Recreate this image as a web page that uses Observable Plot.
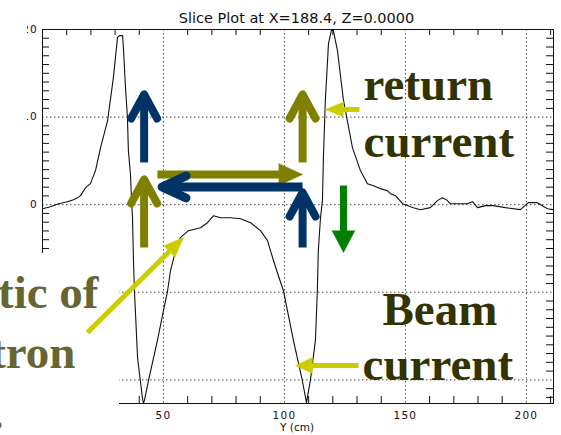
<!DOCTYPE html>
<html><head><meta charset="utf-8">
<script src="https://cdn.jsdelivr.net/npm/d3@7"></script>
<script src="https://cdn.jsdelivr.net/npm/@observablehq/plot@0.6"></script>
<style>
html,body{margin:0;padding:0;background:#fff;}
#chart svg{display:block;}
g[aria-label="x-axis tick label"] text, g[aria-label="y-axis tick label"] text, g[aria-label="axis title"] text {letter-spacing:1.2px;}
g[aria-label="title"] text{letter-spacing:0.7px;}
</style></head><body><div id="chart"></div>
<script>
// ---- data ----
const titleText = "Slice Plot at X=188.4, Z=0.0000";
const xLabel = "Y (cm)";
const xDomain = [0, 211.2];
const yDomain = [-22.7, 20];
const xMajor = [50, 100, 150, 200];
const yMajor = [-20, -10, 0, 10, 20];
const yLabelled = [0, 10, 20];
const xMinor = [10,20,30,40,60,70,80,90,110,120,130,140,160,170,180,190,210];
const yMinor = [-22,-21,-19,-18,-17,-16,-15,-14,-13,-12,-11,-9,-8,-7,-6,-5,-4,-3,-2,-1,1,2,3,4,5,6,7,8,9,11,12,13,14,15,16,17,18,19];

const yCm = [0,3.3,6.6,10.3,12.8,14.5,15.7,17.8,19.8,21.9,24.0,26.9,29.3,31.0,31.8,33.1,33.5,34.3,35.1,35.5,36.4,36.8,37.2,37.6,38.0,39.3,41.3,41.7,42.1,43.8,47.5,50.0,51.7,52.9,55.0,57.0,60.3,65.3,68.2,70.7,73.6,77.7,81.8,86.0,90.1,93.0,95.5,97.5,99.6,103.7,107.4,109.1,110.7,112.8,113.6,114.0,114.9,115.7,116.1,116.9,118.2,119.4,120.2,121.9,124.4,128.1,131.4,134.3,136.8,139.7,142.6,143.8,145.9,148.8,153.3,156.2,160.3,163.2,165.3,166.9,168.6,175.6,177.7,179.8,183.1,186.4,191.3,197.5,200.8,204.5,208.7,211.2];
const field = [-0.46,-0.23,0.11,0.34,0.57,0.8,1.03,1.94,2.4,3.89,6.51,9.6,14.5,19.1,19.3,19.3,17.6,13.4,9.94,6.17,3.31,0.46,-1.49,-6.4,-9.83,-17.5,-22.06,-22.6,-22.4,-20.1,-15.5,-12.1,-9.83,-7.54,-5.26,-3.77,-2.97,-2.63,-2.06,-1.26,-1.49,-1.49,-1.6,-2.06,-2.97,-4.11,-6.4,-8.11,-9.83,-15.5,-20.1,-22.6,-20.1,-15.5,-9.83,-5.26,-1.49,0.46,5.37,11.9,18.4,19.9,19.9,17.6,11.9,6.51,3.89,2.4,2.17,1.83,1.6,1.26,1.03,0.11,-0.34,-0.57,-0.34,0.46,0.8,0.57,0.11,0.11,0.34,-0.34,-0.11,-0.11,-0.34,-0.57,0.23,0.23,-0.46,-0.57];

// annotations (data coordinates)
const NAVY = "#003366", OLIVE = "#808000", GREEN = "#008000", YELLOW = "#cccc00";
const chevronArrows = [
  {x1:42.0, y1:4.82, x2:42.0, y2:12.58, color:NAVY},
  {x1:42.0, y1:-4.89, x2:42.0, y2:2.88, color:OLIVE},
  {x1:107.5, y1:4.82, x2:107.5, y2:12.58, color:OLIVE},
  {x1:107.5, y1:-4.89, x2:107.5, y2:1.39, color:NAVY}
];
const leftArrow = {x1:107.5, y1:2.02, x2:49.4, y2:2.02, color:NAVY};
const filledArrows = [
  {x1:47.5, y1:3.45, x2:107.5, y2:3.45, color:OLIVE, w:8, len:24, half:11},
  {x1:124.4, y1:2.19, x2:124.4, y2:-5.46, color:GREEN, w:7, len:22, half:11.5},
  {x1:131.0, y1:10.87, x2:117.0, y2:10.87, color:YELLOW, w:5, len:18, half:7.5},
  {x1:130.6, y1:-18.36, x2:104.6, y2:-18.36, color:YELLOW, w:5, len:17, half:8}
];
const diagArrow = {x1:18.6, y1:-14.59, x2:58.3, y2:-3.74, color:YELLOW, w:5, len:20, half:8};
const rightLabels = [
  {x:132.7, y:11.9, t:"return"},
  {x:132.7, y:5.39, t:"current"},
  {x:140.5, y:-13.79, t:"Beam"},
  {x:132.3, y:-20.07, t:"current"}
];
const leftLabels = [
  {x:23.15, y:-11.85, t:"tic of"},
  {x:13.64, y:-18.59, t:"tron"},
  {x:-16.1, y:-25.6, t:"."}
];

// ---- layout ----
const W = 561, H = 435, mL = 42, mR = 8, mT = 29, mB = 32;
const sx = Plot.scale({x: {domain: xDomain, range: [mL, W - mR]}});
const sy = Plot.scale({y: {domain: yDomain, range: [H - mB, mT]}});
const toD = ([px, py]) => ({x: sx.invert(px), y: sy.invert(py)});

function geom(a) {
  const x1 = sx.apply(a.x1), y1 = sy.apply(a.y1), x2 = sx.apply(a.x2), y2 = sy.apply(a.y2);
  const L = Math.hypot(x2 - x1, y2 - y1), ux = (x2 - x1) / L, uy = (y2 - y1) / L;
  return {x1, y1, x2, y2, ux, uy};
}
function chevron(a, back, side) {
  const g = geom(a);
  return [
    [g.x2 - g.ux*back - g.uy*side, g.y2 - g.uy*back + g.ux*side],
    [g.x2, g.y2],
    [g.x2 - g.ux*back + g.uy*side, g.y2 - g.uy*back - g.ux*side]
  ].map(toD);
}
function triHead(a) {
  const g = geom(a);
  const bx = g.x2 - g.ux*a.len, by = g.y2 - g.uy*a.len;
  return {
    head: [[bx - g.uy*a.half, by + g.ux*a.half], [g.x2, g.y2], [bx + g.uy*a.half, by - g.ux*a.half]].map(toD),
    base: toD([bx + g.ux*2, by + g.uy*2])
  };
}
function chevronMarks(a, w, back, side) {
  return [
    Plot.link([a], {x1:"x1", y1:"y1", x2:"x2", y2:"y2", stroke:a.color, strokeWidth:w, strokeLinecap:"butt"}),
    Plot.line(chevron(a, back, side), {x:"x", y:"y", stroke:a.color, strokeWidth:w, strokeLinecap:"round", strokeLinejoin:"round"})
  ];
}
function filledMarks(a) {
  const t = triHead(a);
  return [
    Plot.link([{x1:a.x1, y1:a.y1, x2:t.base.x, y2:t.base.y}], {x1:"x1", y1:"y1", x2:"x2", y2:"y2", stroke:a.color, strokeWidth:a.w, strokeLinecap:"butt"}),
    Plot.line(t.head, {x:"x", y:"y", fill:a.color, stroke:a.color, strokeWidth:0.5})
  ];
}

const curve = yCm.map((y, i) => ({y, v: field[i]}));
const gridStyle = {stroke:"#444", strokeOpacity:1, strokeDasharray:"1.5,2.5", strokeWidth:1};

const plot = Plot.plot({
  width: W, height: H, marginLeft: mL, marginRight: mR, marginTop: mT, marginBottom: mB,
  x: {domain: xDomain},
  y: {domain: yDomain},
  style: {fontFamily: "DejaVu Sans", fontSize: "10.5px", color: "#111", background: "white", overflow: "visible"},
  marks: [
    Plot.gridX(xMajor, gridStyle),
    Plot.gridY(yMajor, gridStyle),
    Plot.tickX(xMinor, {x: d => d, insetTop: H - mT - mB - 7, stroke:"#111"}),
    Plot.tickX(xMinor, {x: d => d, insetBottom: H - mT - mB - 6, stroke:"#111"}),
    Plot.tickY(yMinor, {y: d => d, insetRight: W - mL - mR - 7, stroke:"#111"}),
    Plot.tickY(yMinor, {y: d => d, insetLeft: W - mL - mR - 7, stroke:"#111"}),
    Plot.frame({stroke:"#111"}),
    Plot.line(curve, {x:"y", y:"v", stroke:"#111", strokeWidth:1.1, clip:true}),
    Plot.axisX({ticks: xMajor, tickSize: 0, tickPadding: 8, tickFormat: d => String(d)}),
    Plot.axisY({ticks: yLabelled, tickSize: 0, tickPadding: 4.5, tickFormat: d => String(d)}),
    Plot.text([titleText], {frameAnchor:"top", lineAnchor:"bottom", dy:-6.5, dx:-1.5, fontSize:14.5, ariaLabel:"title"}),
    Plot.text([xLabel], {frameAnchor:"bottom", lineAnchor:"bottom", dy:27.5, dx:-1, ariaLabel:"axis title"}),
    // arrows
    ...filledMarks(filledArrows[0]),
    ...chevronArrows.flatMap(a => chevronMarks(a, 8, 24, 13)),
    ...chevronMarks(leftArrow, 9, 24, 11),
    ...filledArrows.slice(1).flatMap(filledMarks),
    // overlay boxes
    Plot.frame({fill:"white", stroke:null, insetLeft:-mL, insetRight: W - mR - 26.5, insetTop:-mT, insetBottom:-mB}),
    Plot.frame({fill:"white", stroke:null, insetLeft:-mL, insetRight: W - mR - 118.5, insetTop: 252.5 - mT, insetBottom:-mB}),
    // labels
    Plot.text(leftLabels, {x:"x", y:"y", text:"t", textAnchor:"end", lineAnchor:"bottom", fontFamily:"Liberation Serif", fontWeight:"bold", fontSize:47, fill:"#666633"}),
    ...filledMarks(diagArrow),
    Plot.text(rightLabels, {x:"x", y:"y", text:"t", textAnchor:"start", lineAnchor:"bottom", fontFamily:"Liberation Serif", fontWeight:"bold", fontSize:47, fill:"#333300"})
  ]
});
document.getElementById("chart").appendChild(plot);
</script>
</body></html>
